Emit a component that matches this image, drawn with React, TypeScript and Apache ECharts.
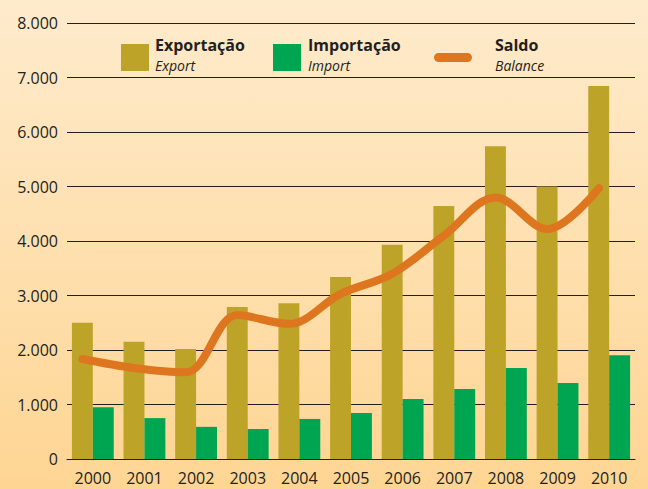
import React, { useEffect, useRef } from "react";
import * as echarts from "echarts";

const years = ["2000", "2001", "2002", "2003", "2004", "2005", "2006", "2007", "2008", "2009", "2010"];
const exportValues = [2500, 2150, 2020, 2790, 2860, 3340, 3930, 4640, 5740, 5000, 6845];
const importValues = [950, 750, 590, 550, 735, 845, 1100, 1285, 1670, 1395, 1905];
const balanceValues = [1835, 1670, 1590, 2640, 2480, 3030, 3400, 4100, 4800, 4220, 4970];
const yTicks = [0, 1000, 2000, 3000, 4000, 5000, 6000, 7000, 8000];

const FONT = "'Open Sans', 'DejaVu Sans', sans-serif";
const TEXT = "#231f20";
const EXPORT_COLOR = "#bda428";
const IMPORT_COLOR = "#00a551";
const BALANCE_COLOR = "#de761f";

const fmt = (v: number) => (v === 0 ? "0" : (v / 1000).toFixed(3));

export default function App() {
  const ref = useRef<HTMLDivElement>(null);
  useEffect(() => {
    document.body.style.margin = "0";
    if (!ref.current) return;
    const chart = echarts.init(ref.current, null, { renderer: "svg" });
    const yMax = yTicks[yTicks.length - 1];
    const legendItem = (x: number, title: string, sub: string) => [
      {
        type: "text",
        left: x,
        top: 37,
        style: { text: title, font: `bold 16px ${FONT}`, fill: TEXT },
      },
      {
        type: "text",
        left: x,
        top: 58,
        style: { text: sub, font: `italic 14px ${FONT}`, fill: TEXT },
      },
    ];
    chart.setOption({
      animation: false,
      backgroundColor: {
        type: "linear",
        x: 0,
        y: 0,
        x2: 0,
        y2: 1,
        colorStops: [
          { offset: 0, color: "#feebcc" },
          { offset: 1, color: "#fed593" },
        ],
      },
      grid: [
        { left: 67, right: 13, top: 23, bottom: 30 },
        { left: 67 - 10.3, right: 13 + 10.3, top: 23, bottom: 30 },
      ],
      xAxis: [
        {
          type: "category",
          data: years,
          gridIndex: 0,
          axisLine: { show: true, lineStyle: { color: TEXT, width: 1.2 } },
          axisTick: { show: false },
          axisLabel: { color: TEXT, fontFamily: FONT, fontSize: 16, lineHeight: 14, margin: 12 },
        },
        {
          type: "category",
          data: years,
          gridIndex: 1,
          show: false,
        },
      ],
      yAxis: [
        {
          type: "value",
          gridIndex: 0,
          min: 0,
          max: yMax,
          interval: 1000,
          axisLine: { show: false },
          axisTick: { show: false },
          splitLine: { show: true, lineStyle: { color: TEXT, width: 1.2 } },
          axisLabel: {
            color: TEXT,
            fontFamily: FONT,
            fontSize: 16,
            margin: 9,
            formatter: (v: number) => fmt(v),
          },
        },
        {
          type: "value",
          gridIndex: 1,
          min: 0,
          max: yMax,
          interval: 1000,
          show: false,
          splitLine: { show: false },
        },
      ],
      series: [
        {
          name: "Exportação",
          type: "bar",
          data: exportValues,
          xAxisIndex: 0,
          yAxisIndex: 0,
          barGap: "0%",
          barCategoryGap: "19%",
          itemStyle: { color: EXPORT_COLOR },
        },
        {
          name: "Importação",
          type: "bar",
          data: importValues,
          xAxisIndex: 0,
          yAxisIndex: 0,
          itemStyle: { color: IMPORT_COLOR },
        },
        {
          name: "Saldo",
          type: "line",
          data: balanceValues,
          xAxisIndex: 1,
          yAxisIndex: 1,
          smooth: 0.35,
          symbol: "none",
          lineStyle: { color: BALANCE_COLOR, width: 8, cap: "round", join: "round" },
          z: 5,
        },
      ],
      graphic: [
        { type: "rect", shape: { x: 121, y: 44, width: 28, height: 27 }, style: { fill: EXPORT_COLOR } },
        ...legendItem(155, "Exportação", "Export"),
        { type: "rect", shape: { x: 273, y: 44, width: 28, height: 27 }, style: { fill: IMPORT_COLOR } },
        ...legendItem(308, "Importação", "Import"),
        { type: "rect", shape: { x: 434, y: 53, width: 38, height: 9, r: 4.5 }, style: { fill: BALANCE_COLOR } },
        ...legendItem(495, "Saldo", "Balance"),
      ],
    });
    return () => chart.dispose();
  }, []);
  return <div ref={ref} style={{ width: 648, height: 489 }} />;
}
